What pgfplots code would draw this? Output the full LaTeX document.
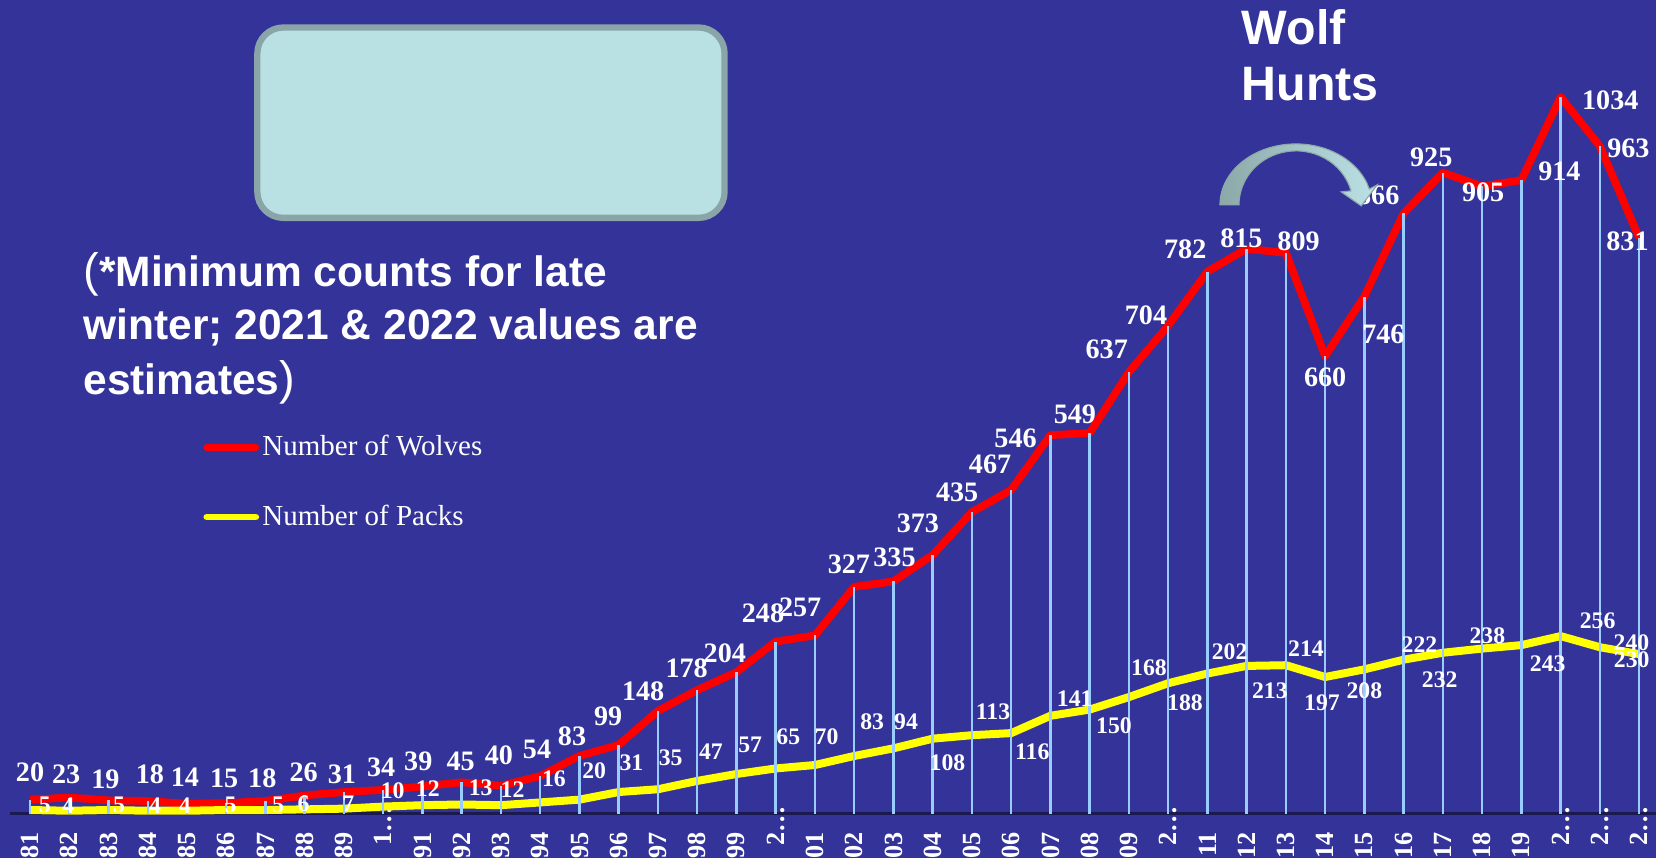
\documentclass[border=0pt]{standalone}
\usepackage{fontspec}
\setmainfont{Liberation Serif}
\newfontfamily\arialf{Liberation Sans}
\usepackage{pgfplots}
\usepackage{pgfplotstable}
\pgfplotsset{compat=1.18}

\definecolor{bg}{HTML}{333399}
\definecolor{dropblue}{HTML}{99CCFF}
\definecolor{boxfill}{HTML}{B9E0E3}
\definecolor{boxedge}{HTML}{8AA5A8}
\definecolor{arrowdark}{HTML}{8CA8A8}
\definecolor{arrowlight}{HTML}{BCE2E6}
\definecolor{axisnavy}{HTML}{1A1A50}
\definecolor{wolfred}{HTML}{FF0000}
\definecolor{packyellow}{HTML}{FFFF00}

% i = year index (0 = 1981), w = wolves, p = packs
% dx/dy = label offsets in picture pixels
\pgfplotstableread{
i  w    dxw  dyw  p    dxp  dyp
0  20   0    -26  5    14   -5
1  23   -3   -22  4    -1   -5
2  19   -3   -20  5    10   -5
3  18   2    -25  4    7    -5
4  14   -2   -25  4    -2   -5
5  15   -2   -23  5    4    -5
6  18   -3   -22  5    12   -5
7  26   -1   -22  6    -1   -5
8  31   -2   -17  7    4    -5
9  34   -2   -21  10   9    -15
10 39   -4   -24  12   5    -16
11 45   -1   -20  13   18   -16
12 40   -2   -29  12   11   -15
13 54   -3   -25  16   13   -22
14 83   -7   -19  20   14   -27
15 99   -10  -27  31   12   -28
16 148  -14  -19  35   12   -30
17 178  -10  -21  47   13   -28
18 204  -11  -18  57   13   -28
19 248  -12  -27  65   12   -30
20 257  -14  -27  70   11   -27
21 327  -5   -21  83   17   -32
22 335  1    -23  94   12   -25
23 373  -14  -30  108  14   23
24 435  -14  -19  113  20   -22
25 467  -20  -24  116  20   18
26 546  -33  3    141  23   -16
27 549  -14  -18  150  23   15
28 637  -21  -22  168  19   -28
29 704  -21  -10  188  16   18
30 782  -21  -21  202  21   -21
31 815  -5   -10  213  22   24
32 809  12   -11  214  19   -16
33 660  0    20   197  -3   24
34 746  18   36   208  0    20
35 866  -24  -17  222  15   -14
36 925  -11  -14  232  -3   26
37 905  1    6    238  5    -12
38 914  36   -8   243  25   18
39 1034 47   3    256  35   -15
40 963  27   2    240  30   -4
41 831  -11  3    230  -7   5
}\wolfdata

\newcommand{\yl}[1]{#1\kern9.4pt}

\begin{document}
\begin{tikzpicture}[img/.style={x=0.3621pt,y=-0.3621pt,shift={(-3.766pt,294.75pt)}}]
\begin{scope}[img]
  \fill[bg] (0,0) rectangle (1657,859);
  \path[use as bounding box] (0,0) rectangle (1657,859);
\end{scope}

\begin{axis}[
    at={(0,0)}, anchor=south west,
    scale only axis,
    width=596.23pt, height=294.75pt,
    xmin=-0.5, xmax=41.43,
    ymin=0, ymax=1174,
    clip=false,
    axis x line=bottom,
    axis y line=none,
    x axis line style={-, draw=axisnavy, line width=0.75pt},
    ytick=\empty,
    xtick={0,...,41},
    xticklabels={\yl{81},\yl{82},\yl{83},\yl{84},\yl{85},\yl{86},\yl{87},\yl{88},\yl{89},1…,
        \yl{91},\yl{92},\yl{93},\yl{94},\yl{95},\yl{96},\yl{97},\yl{98},\yl{99},2…,
        \yl{01},\yl{02},\yl{03},\yl{04},\yl{05},\yl{06},\yl{07},\yl{08},\yl{09},2…,
        \yl{11},\yl{12},\yl{13},\yl{14},\yl{15},\yl{16},\yl{17},\yl{18},\yl{19},2…,2…,2…},
    major tick length=0pt,
    tick style={draw=none},
    xticklabel style={yshift=2.9pt, rotate=90, anchor=east, inner sep=0pt,
        font=\bfseries\fontsize{9.5}{10}\selectfont, text=white},
    no markers,
    every axis plot/.append style={line join=round},
    legend entries={Number of Wolves, Number of Packs},
    legend cell align=left,
    legend image code/.code={\draw[#1, line width=2.5pt, line cap=round] (0pt,0pt) -- (17.7pt,0pt);},
    legend style={draw=none, fill=none, text=white, inner sep=0pt, outer sep=0pt,
        at={(axis description cs:0.1173,0.4650)}, anchor=north west,
        font=\fontsize{10.5}{12}\selectfont, row sep=16.3pt, column sep=1.2pt,
        nodes={inner sep=0pt}},
]
\addplot[color=wolfred, line width=2.8pt] table[x=i, y=w] {\wolfdata};
\addplot[color=packyellow, line width=2.9pt] table[x=i, y=p] {\wolfdata};
\addplot[ycomb, color=dropblue, line width=0.9pt, forget plot] table[x=i, y=w] {\wolfdata};

\addplot[draw=none, forget plot, nodes near coords={\pgfplotspointmeta},
    point meta=explicit symbolic,
    visualization depends on={\thisrow{dxw} \as \dx},
    visualization depends on={\thisrow{dyw} \as \dy},
    nodes near coords style={anchor=center, inner sep=0pt,
        xshift={(\dx)*0.38267pt}, yshift={-1*(\dy)*0.38267pt},
        font=\bfseries\fontsize{10.2}{12}\selectfont, text=white}]
    table[x=i, y=w, meta=w] {\wolfdata};

\addplot[draw=none, forget plot, nodes near coords={\pgfplotspointmeta},
    point meta=explicit symbolic,
    visualization depends on={\thisrow{dxp} \as \dx},
    visualization depends on={\thisrow{dyp} \as \dy},
    nodes near coords style={anchor=center, inner sep=0pt,
        xshift={(\dx)*0.38267pt}, yshift={-1*(\dy)*0.38267pt},
        font=\bfseries\fontsize{8.6}{10}\selectfont, text=white}]
    table[x=i, y=p, meta=p] {\wolfdata};
\end{axis}

\begin{scope}[img]
  % empty rounded box
  \draw[boxedge, line width=2.28pt, fill=boxfill, rounded corners=9.4pt]
      (257.5,27.5) rectangle (725,218);
  % note text
  \begin{scope}[every node/.style={anchor=base west, inner sep=0pt, text=white,
        font=\arialf\bfseries\fontsize{15.4}{18}\selectfont}]
    \node at (83,286.7) {{\mdseries\fontsize{17}{18}\selectfont(}*Minimum counts for late};
    \node at (83,340) {winter; 2021 \& 2022 values are};
    \node at (83,395) {estimates{\mdseries\fontsize{17}{18}\selectfont)}};
  \end{scope}
  % wolf hunts annotation
  \begin{scope}[every node/.style={anchor=base west, inner sep=0pt, text=white,
        font=\arialf\bfseries\fontsize{17.5}{20}\selectfont}]
    \node at (1242,44.4) {Wolf};
    \node at (1242,100.4) {Hunts};
  \end{scope}
  % curved arrow
  \draw[arrowdark, line width=0.4pt, left color=arrowdark, right color=arrowlight]
      (1220.7,205) arc[start angle=180, end angle=345, x radius=76, y radius=61]
      -- (1378,185) -- (1362,206) -- (1342,192) -- (1351.8,191)
      arc[start angle=345, end angle=180, x radius=57, y radius=54] -- cycle;
\end{scope}
\end{tikzpicture}
\end{document}
